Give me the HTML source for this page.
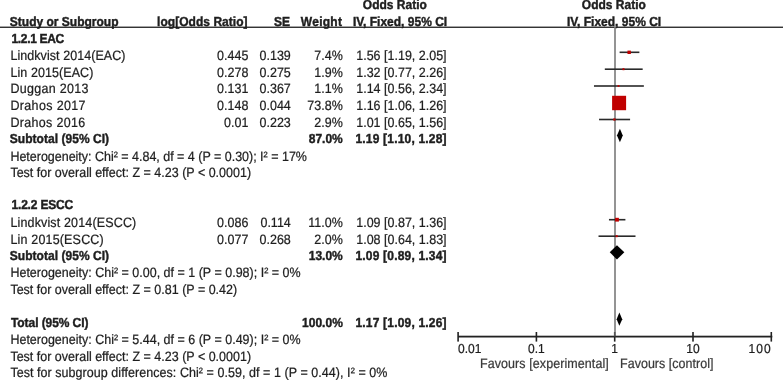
<!DOCTYPE html>
<html><head><meta charset="utf-8"><style>
html,body{margin:0;padding:0;background:#fff;}
body{width:783px;height:381px;overflow:hidden;}
svg{display:block;will-change:transform;filter:blur(0.25px);text-rendering:geometricPrecision;font-family:"Liberation Sans", sans-serif;}
</style></head><body>
<svg width="783" height="381" viewBox="0 0 783 381">
<rect width="783" height="381" fill="#fff"/>
<rect x="0" y="26.6" width="783" height="1.3" fill="#1e1e1e"/>
<rect x="614.2" y="27" width="1.6" height="309.6" fill="#7a7a7a"/>
<rect x="458" y="335.70000000000005" width="314.3" height="1.8" fill="#222"/>
<rect x="457.30" y="332.0" width="1.6" height="9.6" fill="#222"/>
<rect x="535.60" y="332.0" width="1.6" height="9.6" fill="#222"/>
<rect x="613.90" y="332.0" width="1.6" height="4.6" fill="#555"/>
<rect x="613.90" y="336.6" width="1.6" height="5.0" fill="#222"/>
<rect x="692.20" y="332.0" width="1.6" height="9.6" fill="#222"/>
<rect x="770.50" y="332.0" width="1.6" height="9.6" fill="#222"/>
<rect x="619.62" y="51.50" width="19.75" height="1.6" fill="#2a2a2a"/>
<rect x="627.47" y="50.60" width="3.4" height="3.40" fill="#c00000"/>
<rect x="604.81" y="68.40" width="37.86" height="1.6" fill="#2a2a2a"/>
<rect x="622.49" y="68.20" width="2.0" height="2.00" fill="#c00000"/>
<rect x="593.98" y="85.20" width="49.88" height="1.6" fill="#2a2a2a"/>
<rect x="617.61" y="85.10" width="1.8" height="1.80" fill="#c00000"/>
<rect x="615.68" y="102.20" width="7.13" height="1.6" fill="#2a2a2a"/>
<rect x="612.10" y="95.79" width="14.0" height="14.42" fill="#c00000"/>
<rect x="599.05" y="118.70" width="31.02" height="1.6" fill="#2a2a2a"/>
<rect x="613.29" y="118.40" width="2.2" height="2.20" fill="#c00000"/>
<rect x="608.96" y="218.90" width="16.44" height="1.6" fill="#2a2a2a"/>
<rect x="615.08" y="217.80" width="3.8" height="3.80" fill="#c00000"/>
<rect x="598.52" y="235.40" width="36.98" height="1.6" fill="#2a2a2a"/>
<rect x="615.67" y="235.20" width="2.0" height="2.00" fill="#c00000"/>
<polygon points="616.94,135.50 619.92,128.70 622.79,135.50 619.92,142.30" fill="#000"/>
<polygon points="609.74,252.30 616.93,245.20 624.35,252.30 616.93,259.40" fill="#000"/>
<polygon points="616.63,319.20 619.34,312.60 622.26,319.20 619.34,325.80" fill="#000"/>
<text transform="translate(394.80,9.00) scale(1,1.09)" font-size="12" font-weight="bold" text-anchor="middle" fill="#1e1e1e" stroke="#1e1e1e" stroke-width="0.4" >Odds Ratio</text>
<text transform="translate(613.80,9.00) scale(1,1.09)" font-size="12" font-weight="bold" text-anchor="middle" fill="#1e1e1e" stroke="#1e1e1e" stroke-width="0.4" >Odds Ratio</text>
<text transform="translate(9.80,26.00) scale(1,1.09)" font-size="12" font-weight="bold" text-anchor="start" fill="#1e1e1e" stroke="#1e1e1e" stroke-width="0.4" >Study or Subgroup</text>
<text transform="translate(247.60,26.00) scale(1,1.09)" font-size="12" font-weight="bold" text-anchor="end" fill="#1e1e1e" stroke="#1e1e1e" stroke-width="0.4" textLength="90.6" lengthAdjust="spacing">log[Odds Ratio]</text>
<text transform="translate(290.10,26.00) scale(1,1.09)" font-size="12" font-weight="bold" text-anchor="end" fill="#1e1e1e" stroke="#1e1e1e" stroke-width="0.4" >SE</text>
<text transform="translate(341.90,26.00) scale(1,1.09)" font-size="12" font-weight="bold" text-anchor="end" fill="#1e1e1e" stroke="#1e1e1e" stroke-width="0.4"  textLength="41.07" lengthAdjust="spacing">Weight</text>
<text transform="translate(400.00,26.00) scale(1,1.09)" font-size="12" font-weight="bold" text-anchor="middle" fill="#1e1e1e" stroke="#1e1e1e" stroke-width="0.4" >IV, Fixed, 95% CI</text>
<text transform="translate(614.00,26.00) scale(1,1.09)" font-size="12" font-weight="bold" text-anchor="middle" fill="#1e1e1e" stroke="#1e1e1e" stroke-width="0.4" >IV, Fixed, 95% CI</text>
<text transform="translate(11.50,43.00) scale(1,1.09)" font-size="12" font-weight="bold" text-anchor="start" fill="#1e1e1e" stroke="#1e1e1e" stroke-width="0.4"  textLength="52.76" lengthAdjust="spacing">1.2.1 EAC</text>
<text transform="translate(10.40,60.00) scale(1,1.09)" font-size="12.5" font-weight="normal" text-anchor="start" fill="#1e1e1e" stroke="#1e1e1e" stroke-width="0.22"  textLength="115.14" lengthAdjust="spacing">Lindkvist 2014(EAC)</text>
<text transform="translate(248.40,60.00) scale(1,1.09)" font-size="12.5" font-weight="normal" text-anchor="end" fill="#1e1e1e" stroke="#1e1e1e" stroke-width="0.22" >0.445</text>
<text transform="translate(290.80,60.00) scale(1,1.09)" font-size="12.5" font-weight="normal" text-anchor="end" fill="#1e1e1e" stroke="#1e1e1e" stroke-width="0.22" >0.139</text>
<text transform="translate(342.80,60.00) scale(1,1.09)" font-size="12.5" font-weight="normal" text-anchor="end" fill="#1e1e1e" stroke="#1e1e1e" stroke-width="0.22" >7.4%</text>
<text transform="translate(446.60,60.00) scale(1,1.09)" font-size="12.5" font-weight="normal" text-anchor="end" fill="#1e1e1e" stroke="#1e1e1e" stroke-width="0.22" >1.56 [1.19, 2.05]</text>
<text transform="translate(10.40,77.00) scale(1,1.09)" font-size="12.5" font-weight="normal" text-anchor="start" fill="#1e1e1e" stroke="#1e1e1e" stroke-width="0.22"  textLength="82.99" lengthAdjust="spacing">Lin 2015(EAC)</text>
<text transform="translate(248.40,77.00) scale(1,1.09)" font-size="12.5" font-weight="normal" text-anchor="end" fill="#1e1e1e" stroke="#1e1e1e" stroke-width="0.22" >0.278</text>
<text transform="translate(290.80,77.00) scale(1,1.09)" font-size="12.5" font-weight="normal" text-anchor="end" fill="#1e1e1e" stroke="#1e1e1e" stroke-width="0.22" >0.275</text>
<text transform="translate(342.80,77.00) scale(1,1.09)" font-size="12.5" font-weight="normal" text-anchor="end" fill="#1e1e1e" stroke="#1e1e1e" stroke-width="0.22" >1.9%</text>
<text transform="translate(446.60,77.00) scale(1,1.09)" font-size="12.5" font-weight="normal" text-anchor="end" fill="#1e1e1e" stroke="#1e1e1e" stroke-width="0.22" >1.32 [0.77, 2.26]</text>
<text transform="translate(10.40,93.00) scale(1,1.09)" font-size="12.5" font-weight="normal" text-anchor="start" fill="#1e1e1e" stroke="#1e1e1e" stroke-width="0.22"  textLength="77.97" lengthAdjust="spacing">Duggan 2013</text>
<text transform="translate(248.40,93.00) scale(1,1.09)" font-size="12.5" font-weight="normal" text-anchor="end" fill="#1e1e1e" stroke="#1e1e1e" stroke-width="0.22" >0.131</text>
<text transform="translate(290.80,93.00) scale(1,1.09)" font-size="12.5" font-weight="normal" text-anchor="end" fill="#1e1e1e" stroke="#1e1e1e" stroke-width="0.22" >0.367</text>
<text transform="translate(342.80,93.00) scale(1,1.09)" font-size="12.5" font-weight="normal" text-anchor="end" fill="#1e1e1e" stroke="#1e1e1e" stroke-width="0.22" >1.1%</text>
<text transform="translate(446.60,93.00) scale(1,1.09)" font-size="12.5" font-weight="normal" text-anchor="end" fill="#1e1e1e" stroke="#1e1e1e" stroke-width="0.22" >1.14 [0.56, 2.34]</text>
<text transform="translate(10.40,110.00) scale(1,1.09)" font-size="12.5" font-weight="normal" text-anchor="start" fill="#1e1e1e" stroke="#1e1e1e" stroke-width="0.22"  textLength="75.18" lengthAdjust="spacing">Drahos 2017</text>
<text transform="translate(248.40,110.00) scale(1,1.09)" font-size="12.5" font-weight="normal" text-anchor="end" fill="#1e1e1e" stroke="#1e1e1e" stroke-width="0.22" >0.148</text>
<text transform="translate(290.80,110.00) scale(1,1.09)" font-size="12.5" font-weight="normal" text-anchor="end" fill="#1e1e1e" stroke="#1e1e1e" stroke-width="0.22" >0.044</text>
<text transform="translate(342.80,110.00) scale(1,1.09)" font-size="12.5" font-weight="normal" text-anchor="end" fill="#1e1e1e" stroke="#1e1e1e" stroke-width="0.22" >73.8%</text>
<text transform="translate(446.60,110.00) scale(1,1.09)" font-size="12.5" font-weight="normal" text-anchor="end" fill="#1e1e1e" stroke="#1e1e1e" stroke-width="0.22" >1.16 [1.06, 1.26]</text>
<text transform="translate(10.40,127.00) scale(1,1.09)" font-size="12.5" font-weight="normal" text-anchor="start" fill="#1e1e1e" stroke="#1e1e1e" stroke-width="0.22"  textLength="74.88" lengthAdjust="spacing">Drahos 2016</text>
<text transform="translate(248.40,127.00) scale(1,1.09)" font-size="12.5" font-weight="normal" text-anchor="end" fill="#1e1e1e" stroke="#1e1e1e" stroke-width="0.22" >0.01</text>
<text transform="translate(290.80,127.00) scale(1,1.09)" font-size="12.5" font-weight="normal" text-anchor="end" fill="#1e1e1e" stroke="#1e1e1e" stroke-width="0.22" >0.223</text>
<text transform="translate(342.80,127.00) scale(1,1.09)" font-size="12.5" font-weight="normal" text-anchor="end" fill="#1e1e1e" stroke="#1e1e1e" stroke-width="0.22" >2.9%</text>
<text transform="translate(446.60,127.00) scale(1,1.09)" font-size="12.5" font-weight="normal" text-anchor="end" fill="#1e1e1e" stroke="#1e1e1e" stroke-width="0.22" >1.01 [0.65, 1.56]</text>
<text transform="translate(10.40,227.00) scale(1,1.09)" font-size="12.5" font-weight="normal" text-anchor="start" fill="#1e1e1e" stroke="#1e1e1e" stroke-width="0.22"  textLength="125.87" lengthAdjust="spacing">Lindkvist 2014(ESCC)</text>
<text transform="translate(248.40,227.00) scale(1,1.09)" font-size="12.5" font-weight="normal" text-anchor="end" fill="#1e1e1e" stroke="#1e1e1e" stroke-width="0.22" >0.086</text>
<text transform="translate(290.80,227.00) scale(1,1.09)" font-size="12.5" font-weight="normal" text-anchor="end" fill="#1e1e1e" stroke="#1e1e1e" stroke-width="0.22" >0.114</text>
<text transform="translate(342.80,227.00) scale(1,1.09)" font-size="12.5" font-weight="normal" text-anchor="end" fill="#1e1e1e" stroke="#1e1e1e" stroke-width="0.22" >11.0%</text>
<text transform="translate(446.60,227.00) scale(1,1.09)" font-size="12.5" font-weight="normal" text-anchor="end" fill="#1e1e1e" stroke="#1e1e1e" stroke-width="0.22" >1.09 [0.87, 1.36]</text>
<text transform="translate(10.40,244.00) scale(1,1.09)" font-size="12.5" font-weight="normal" text-anchor="start" fill="#1e1e1e" stroke="#1e1e1e" stroke-width="0.22"  textLength="93.32" lengthAdjust="spacing">Lin 2015(ESCC)</text>
<text transform="translate(248.40,244.00) scale(1,1.09)" font-size="12.5" font-weight="normal" text-anchor="end" fill="#1e1e1e" stroke="#1e1e1e" stroke-width="0.22" >0.077</text>
<text transform="translate(290.80,244.00) scale(1,1.09)" font-size="12.5" font-weight="normal" text-anchor="end" fill="#1e1e1e" stroke="#1e1e1e" stroke-width="0.22" >0.268</text>
<text transform="translate(342.80,244.00) scale(1,1.09)" font-size="12.5" font-weight="normal" text-anchor="end" fill="#1e1e1e" stroke="#1e1e1e" stroke-width="0.22" >2.0%</text>
<text transform="translate(446.60,244.00) scale(1,1.09)" font-size="12.5" font-weight="normal" text-anchor="end" fill="#1e1e1e" stroke="#1e1e1e" stroke-width="0.22" >1.08 [0.64, 1.83]</text>
<text transform="translate(9.80,143.00) scale(1,1.09)" font-size="12" font-weight="bold" text-anchor="start" fill="#1e1e1e" stroke="#1e1e1e" stroke-width="0.4"  textLength="99.27" lengthAdjust="spacing">Subtotal (95% CI)</text>
<text transform="translate(342.80,143.00) scale(1,1.09)" font-size="12" font-weight="bold" text-anchor="end" fill="#1e1e1e" stroke="#1e1e1e" stroke-width="0.4" >87.0%</text>
<text transform="translate(446.60,143.00) scale(1,1.09)" font-size="12" font-weight="bold" text-anchor="end" fill="#1e1e1e" stroke="#1e1e1e" stroke-width="0.4" textLength="91.2" lengthAdjust="spacing">1.19 [1.10, 1.28]</text>
<text transform="translate(10.40,161.00) scale(1,1.09)" font-size="12.5" font-weight="normal" text-anchor="start" fill="#1e1e1e" stroke="#1e1e1e" stroke-width="0.22"  textLength="296.56" lengthAdjust="spacing">Heterogeneity: Chi² = 4.84, df = 4 (P = 0.30); I² = 17%</text>
<text transform="translate(10.40,177.00) scale(1,1.09)" font-size="12.5" font-weight="normal" text-anchor="start" fill="#1e1e1e" stroke="#1e1e1e" stroke-width="0.22" >Test for overall effect: Z = 4.23 (P &lt; 0.0001)</text>
<text transform="translate(11.50,209.00) scale(1,1.09)" font-size="12" font-weight="bold" text-anchor="start" fill="#1e1e1e" stroke="#1e1e1e" stroke-width="0.4"  textLength="61.66" lengthAdjust="spacing">1.2.2 ESCC</text>
<text transform="translate(9.80,260.00) scale(1,1.09)" font-size="12" font-weight="bold" text-anchor="start" fill="#1e1e1e" stroke="#1e1e1e" stroke-width="0.4"  textLength="99.27" lengthAdjust="spacing">Subtotal (95% CI)</text>
<text transform="translate(342.80,260.00) scale(1,1.09)" font-size="12" font-weight="bold" text-anchor="end" fill="#1e1e1e" stroke="#1e1e1e" stroke-width="0.4" >13.0%</text>
<text transform="translate(446.60,260.00) scale(1,1.09)" font-size="12" font-weight="bold" text-anchor="end" fill="#1e1e1e" stroke="#1e1e1e" stroke-width="0.4" textLength="91.2" lengthAdjust="spacing">1.09 [0.89, 1.34]</text>
<text transform="translate(10.40,277.00) scale(1,1.09)" font-size="12.5" font-weight="normal" text-anchor="start" fill="#1e1e1e" stroke="#1e1e1e" stroke-width="0.22" >Heterogeneity: Chi² = 0.00, df = 1 (P = 0.98); I² = 0%</text>
<text transform="translate(10.40,294.00) scale(1,1.09)" font-size="12.5" font-weight="normal" text-anchor="start" fill="#1e1e1e" stroke="#1e1e1e" stroke-width="0.22" >Test for overall effect: Z = 0.81 (P = 0.42)</text>
<text transform="translate(11.00,327.00) scale(1,1.09)" font-size="12" font-weight="bold" text-anchor="start" fill="#1e1e1e" stroke="#1e1e1e" stroke-width="0.4"  textLength="77.45" lengthAdjust="spacing">Total (95% CI)</text>
<text transform="translate(342.80,327.00) scale(1,1.09)" font-size="12" font-weight="bold" text-anchor="end" fill="#1e1e1e" stroke="#1e1e1e" stroke-width="0.4" >100.0%</text>
<text transform="translate(446.60,327.00) scale(1,1.09)" font-size="12" font-weight="bold" text-anchor="end" fill="#1e1e1e" stroke="#1e1e1e" stroke-width="0.4" textLength="91.2" lengthAdjust="spacing">1.17 [1.09, 1.26]</text>
<text transform="translate(10.40,344.00) scale(1,1.09)" font-size="12.5" font-weight="normal" text-anchor="start" fill="#1e1e1e" stroke="#1e1e1e" stroke-width="0.22" >Heterogeneity: Chi² = 5.44, df = 6 (P = 0.49); I² = 0%</text>
<text transform="translate(10.40,361.00) scale(1,1.09)" font-size="12.5" font-weight="normal" text-anchor="start" fill="#1e1e1e" stroke="#1e1e1e" stroke-width="0.22" >Test for overall effect: Z = 4.23 (P &lt; 0.0001)</text>
<text transform="translate(10.40,377.00) scale(1,1.09)" font-size="12.5" font-weight="normal" text-anchor="start" fill="#1e1e1e" stroke="#1e1e1e" stroke-width="0.22" textLength="377" lengthAdjust="spacing">Test for subgroup differences: Chi² = 0.59, df = 1 (P = 0.44), I² = 0%</text>
<text transform="translate(458.00,353.00) scale(1,1.09)" font-size="12" font-weight="normal" text-anchor="start" fill="#1e1e1e" stroke="#1e1e1e" stroke-width="0.22" >0.01</text>
<text transform="translate(536.40,353.00) scale(1,1.09)" font-size="12" font-weight="normal" text-anchor="middle" fill="#1e1e1e" stroke="#1e1e1e" stroke-width="0.22" >0.1</text>
<text transform="translate(614.70,353.00) scale(1,1.09)" font-size="12" font-weight="normal" text-anchor="middle" fill="#1e1e1e" stroke="#1e1e1e" stroke-width="0.22" >1</text>
<text transform="translate(693.00,353.00) scale(1,1.09)" font-size="12" font-weight="normal" text-anchor="middle" fill="#1e1e1e" stroke="#1e1e1e" stroke-width="0.22" >10</text>
<text transform="translate(770.60,353.00) scale(1,1.09)" font-size="12" font-weight="normal" text-anchor="end" fill="#1e1e1e" stroke="#1e1e1e" stroke-width="0.22"  textLength="22.02" lengthAdjust="spacing">100</text>
<text transform="translate(480.00,368.00) scale(1,1.09)" font-size="12.5" font-weight="normal" text-anchor="start" fill="#3a3a3a" stroke="#3a3a3a" stroke-width="0.22"  textLength="128.74" lengthAdjust="spacing">Favours [experimental]</text>
<text transform="translate(620.00,368.00) scale(1,1.09)" font-size="12.5" font-weight="normal" text-anchor="start" fill="#3a3a3a" stroke="#3a3a3a" stroke-width="0.22"  textLength="93.49" lengthAdjust="spacing">Favours [control]</text>
</svg>
</body></html>
